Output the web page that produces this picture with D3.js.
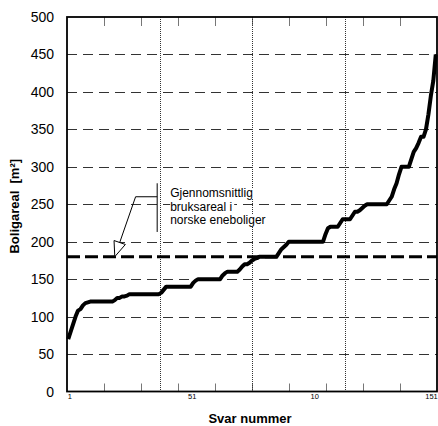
<!DOCTYPE html>
<html>
<head>
<meta charset="utf-8">
<script src="https://cdn.jsdelivr.net/npm/d3@7"></script>
<style>
  html, body { margin: 0; padding: 0; background: #fff; }
  svg { display: block; font-family: Arial, "Liberation Sans", sans-serif; }
</style>
</head>
<body>
<svg id="chart" width="438" height="426"></svg>
<script>
// ---- data ----
const areas = [
  70, 80, 90, 100, 108, 110, 115, 118, 119,
  120, 120, 120, 120, 120, 120, 120, 120, 120, 120,
  122, 125, 125, 127, 127, 128,
  130, 130, 130, 130, 130, 130, 130, 130, 130, 130, 130, 130, 130,
  132, 136, 140,
  140, 140, 140, 140, 140, 140, 140, 140, 140, 140,
  145, 148,
  150, 150, 150, 150, 150, 150, 150, 150, 150, 150,
  155, 158,
  160, 160, 160, 160, 160,
  163, 167, 170, 170, 172, 175, 177, 178,
  180, 180, 180, 180, 180, 180, 180, 180,
  185, 190, 193, 196, 200,
  200, 200, 200, 200, 200, 200, 200, 200, 200, 200, 200, 200, 200, 200,
  210, 218,
  220, 220, 220, 220,
  225, 230,
  230, 230, 230,
  235, 240, 240, 242, 245, 248, 250,
  250, 250, 250, 250, 250, 250, 250, 250,
  255, 260, 270, 278, 290, 300,
  300, 300, 300,
  310, 320, 325, 332, 340, 340, 350, 370, 395, 415, 450
];
const responseNumbers = areas.map((d, i) => i + 1);
const averageArea = 180;
const yTickValues = [0, 50, 100, 150, 200, 250, 300, 350, 400, 450, 500];
const xTickValues = [1, 51, 101, 151];
const xTickLabels = ["1", "51", "10", "151"];
const annotationLines = ["Gjennomsnittlig", "bruksareal i", "norske eneboliger"];
const yTitle = "Boligareal  [m²]";
const xTitle = "Svar nummer";

(function () {
// ---- layout ----
const svg = d3.select("#chart");
const pL = 67, pR = 437, pT = 17, pB = 391.5;

const x = d3.scaleLinear().domain([0.5, areas.length + 0.5]).range([pL, pR]);
const y = d3.scaleLinear().domain([0, 500]).range([pB, pT]);

// horizontal dashed gridlines
svg.append("g").selectAll("line")
  .data(yTickValues.filter(v => v > 0 && v < 500))
  .join("line")
  .attr("x1", pL).attr("x2", pR)
  .attr("y1", d => Math.round(y(d)) + 0.5).attr("y2", d => Math.round(y(d)) + 0.5)
  .attr("stroke", "#333").attr("stroke-width", 1)
  .attr("stroke-dasharray", "10,6");

// minor ticks (10 divisions) top & bottom, inward
const dom = x.domain();
const minorTicks = d3.range(1, 10).map(i => dom[0] + i * (dom[1] - dom[0]) / 10);
const tg = svg.append("g").attr("stroke", "#777").attr("stroke-width", 1);
tg.selectAll("line.b").data(minorTicks).join("line").attr("class", "b")
  .attr("x1", d => Math.round(x(d)) + 0.5).attr("x2", d => Math.round(x(d)) + 0.5)
  .attr("y1", pB).attr("y2", pB - 8);
tg.selectAll("line.t").data(minorTicks).join("line").attr("class", "t")
  .attr("x1", d => Math.round(x(d)) + 0.5).attr("x2", d => Math.round(x(d)) + 0.5)
  .attr("y1", pT).attr("y2", pT + 9);

// dotted quartile lines
const quartiles = [1, 2, 3].map(i => dom[0] + i * (dom[1] - dom[0]) / 4);
svg.append("g").selectAll("line").data(quartiles).join("line")
  .attr("x1", d => Math.round(x(d)) + 0.5).attr("x2", d => Math.round(x(d)) + 0.5)
  .attr("y1", pT).attr("y2", pB)
  .attr("stroke", "#333").attr("stroke-width", 1)
  .attr("stroke-dasharray", "1,1");

// average line
svg.append("line")
  .attr("x1", pL).attr("x2", pR)
  .attr("y1", y(averageArea)).attr("y2", y(averageArea))
  .attr("stroke", "#000").attr("stroke-width", 3)
  .attr("stroke-dasharray", "13,5");

// data line
const line = d3.line().x((d, i) => x(responseNumbers[i])).y(d => y(d));
svg.append("path").datum(areas)
  .attr("d", line)
  .attr("fill", "none").attr("stroke", "#000")
  .attr("stroke-width", 4).attr("stroke-linejoin", "round");

// frame
svg.append("rect")
  .attr("x", pL).attr("y", pT)
  .attr("width", pR - pL).attr("height", pB - pT)
  .attr("fill", "none").attr("stroke", "#000").attr("stroke-width", 1.8);

// y tick labels
svg.append("g").selectAll("text").data(yTickValues).join("text")
  .attr("x", pL - 13).attr("y", d => y(d) + 5)
  .attr("text-anchor", "end")
  .attr("font-size", "14px").attr("fill", "#000")
  .text(d => d);

// x tick labels
svg.append("g").selectAll("text").data(xTickValues).join("text")
  .attr("x", d => Math.min(x(d) + 1.5, pR - 5.5)).attr("y", pB + 7.5)
  .attr("text-anchor", "middle")
  .attr("font-size", "7.5px").attr("fill", "#000")
  .text((d, i) => xTickLabels[i]);

// axis titles
svg.append("text")
  .attr("x", (pL + pR) / 2 - 2).attr("y", 423)
  .attr("text-anchor", "middle")
  .attr("font-size", "13px").attr("font-weight", "bold")
  .text(xTitle);

svg.append("text")
  .attr("transform", `translate(19,${(pT + pB) / 2 + 2}) rotate(-90)`)
  .attr("text-anchor", "middle")
  .attr("font-size", "13px").attr("font-weight", "bold")
  .style("white-space", "pre")
  .text(yTitle);

// annotation (anchored in data coordinates)
const ann = svg.append("g").attr("stroke", "#000").attr("stroke-width", 1).attr("fill", "none");
const bx = x(37.3);
ann.append("line").attr("x1", bx).attr("x2", bx).attr("y1", y(278)).attr("y2", y(213));
const kx = x(28.5), ky = y(260);
ann.append("line").attr("x1", kx).attr("x2", bx).attr("y1", ky).attr("y2", ky);
const tipX = x(20), tipY = y(averageArea);
ann.append("line").attr("x1", kx).attr("y1", ky).attr("x2", tipX).attr("y2", tipY);
// open arrowhead
const ang = Math.atan2(tipY - ky, tipX - kx);
const L = 15, W = 6;
const bxp = tipX - L * Math.cos(ang), byp = tipY - L * Math.sin(ang);
const p1 = [bxp + W * Math.sin(ang), byp - W * Math.cos(ang)];
const p2 = [bxp - W * Math.sin(ang), byp + W * Math.cos(ang)];
ann.append("path")
  .attr("d", `M${tipX},${tipY}L${p1[0]},${p1[1]}L${p2[0]},${p2[1]}Z`)
  .attr("fill", "#fff").attr("stroke", "#000");

const tgText = svg.append("g");
const labels = tgText.selectAll("g").data(annotationLines).join("g");
labels.each(function (d, i) {
  const g = d3.select(this);
  const bg = g.append("rect").attr("fill", "#fff");
  const t = g.append("text")
    .attr("x", x(42.6)).attr("y", 197 + i * 13.5)
    .attr("font-size", "12px").attr("fill", "#000")
    .text(d);
  const b = t.node().getBBox();
  bg.attr("x", b.x).attr("y", b.y + 2).attr("width", b.width + 2).attr("height", b.height - 3);
});
})();
</script>
</body>
</html>
